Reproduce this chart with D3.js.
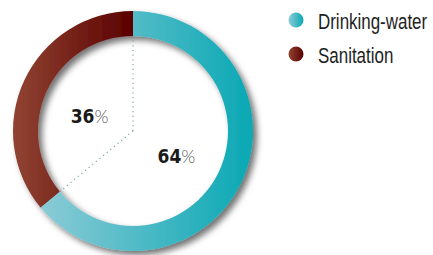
<!DOCTYPE html>
<html>
<head>
<meta charset="utf-8">
<script src="https://cdn.jsdelivr.net/npm/d3@7"></script>
<style>
  body { margin: 0; background: #fff; }
</style>
</head>
<body>
<div id="chart"></div>
<script>
var categories = ['Drinking-water', 'Sanitation'];
var values = [64, 36];
var gradStops = [['#8ccbd6', '#08a8b4'], ['#914433', '#5a0000']];

var width = 433, height = 255,
    cx = 133, cy = 131,
    outerR = 120, innerR = 95;

var svg = d3.select('#chart').append('svg')
  .attr('width', width)
  .attr('height', height);

var defs = svg.append('defs');

var shadow = defs.append('filter')
  .attr('id', 'shadow')
  .attr('x', '-20%').attr('y', '-20%')
  .attr('width', '140%').attr('height', '140%');
shadow.append('feDropShadow')
  .attr('dx', 4).attr('dy', 4)
  .attr('stdDeviation', 3)
  .attr('flood-color', '#000')
  .attr('flood-opacity', 0.55);

gradStops.forEach(function(s, i) {
  var g = defs.append('linearGradient')
    .attr('id', 'grad' + i)
    .attr('x1', '0%').attr('x2', '100%')
    .attr('y1', '0%').attr('y2', '0%');
  g.append('stop').attr('offset', '0%').attr('stop-color', s[0]);
  g.append('stop').attr('offset', '100%').attr('stop-color', s[1]);
});

var pie = d3.pie().sort(null).value(function(d) { return d; });
var arcs = pie(values);

var arc = d3.arc().innerRadius(innerR).outerRadius(outerR);

var g = svg.append('g')
  .attr('transform', 'translate(' + cx + ',' + cy + ')');

g.append('g')
  .attr('filter', 'url(#shadow)')
  .selectAll('path')
  .data(arcs)
  .enter().append('path')
  .attr('d', arc)
  .attr('fill', function(d, i) { return 'url(#grad' + i + ')'; });

// dotted dividers from the centre to each slice start
g.selectAll('.divider')
  .data(arcs)
  .enter().append('line')
  .attr('class', 'divider')
  .attr('x1', 0).attr('y1', 0)
  .attr('x2', function(d) { return Math.sin(d.startAngle) * innerR; })
  .attr('y2', function(d) { return -Math.cos(d.startAngle) * innerR; })
  .attr('stroke', '#7ea9ad')
  .attr('stroke-width', 1.2)
  .attr('stroke-dasharray', '1.2,3.5');

var labelArc = d3.arc().innerRadius(48).outerRadius(48);

var label = g.selectAll('.pct')
  .data(arcs)
  .enter().append('text')
  .attr('class', 'pct')
  .attr('transform', function(d) {
    var c = labelArc.centroid(d);
    return 'translate(' + c[0] + ',' + (c[1] + 12) + ')';
  })
  .attr('text-anchor', 'middle');

label.append('tspan')
  .style('font-family', 'DejaVu Sans Condensed, DejaVu Sans, sans-serif')
  .style('font-weight', 'bold')
  .style('font-size', '19px')
  .style('fill', '#1a1a1a')
  .text(function(d) { return d.data; });
label.append('tspan')
  .style('font-family', 'Lato, sans-serif')
  .style('font-weight', 300)
  .style('font-size', '18px')
  .style('fill', '#555')
  .text('%');

var legend = svg.selectAll('.legend')
  .data(categories)
  .enter().append('g')
  .attr('class', 'legend')
  .attr('transform', function(d, i) { return 'translate(296,' + (20 + i * 34) + ')'; });

legend.append('circle')
  .attr('r', 7.5)
  .attr('fill', function(d, i) { return 'url(#grad' + i + ')'; });

// no narrow font installed, so squeeze a normal one horizontally
legend.append('text')
  .attr('transform', 'translate(22,9) scale(0.77,1)')
  .style('font-family', 'Liberation Sans, Arial, sans-serif')
  .style('font-size', '22px')
  .style('fill', '#1e1e1e')
  .text(function(d) { return d; });
</script>
</body>
</html>
